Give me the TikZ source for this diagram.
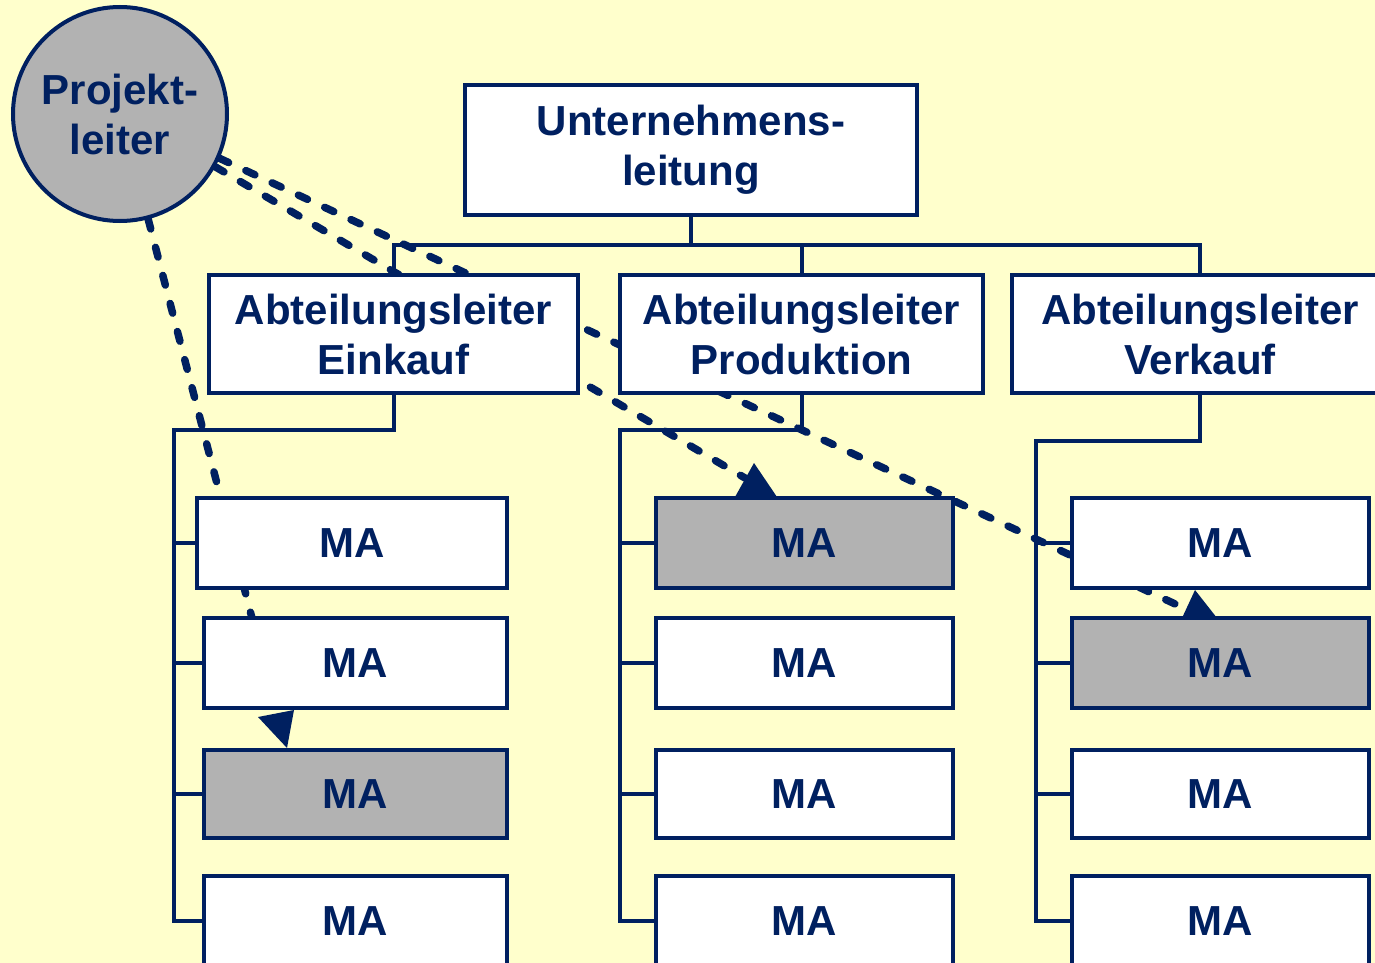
\documentclass[tikz,border=0pt]{standalone}
\usepackage{fontspec}
\setmainfont{Liberation Sans}
\usetikzlibrary{backgrounds}
\definecolor{navy}{RGB}{0,32,96}
\definecolor{bgyellow}{RGB}{255,255,204}
\definecolor{graybox}{RGB}{178,178,178}
\begin{document}
\begin{tikzpicture}[x=1pt,y=-1pt,
  box/.style={draw=navy, line width=4pt, fill=white, text=navy,
    font=\fontsize{42}{50}\selectfont\bfseries, align=center, inner sep=0pt},
  grbox/.style={box, fill=graybox},
  mabox/.style={box, minimum width=297pt, minimum height=90pt},
  conn/.style={draw=navy, line width=4pt},
  dline/.style={draw=navy, line width=7.5pt, line cap=round, dash pattern=on 10pt off 19pt},
  tipfill/.style={fill=navy, draw=none}]
\useasboundingbox (0,0) rectangle (1375,963);
\clip (0,0) rectangle (1375,963);

% ---- nodes ----
\node[box, circle, fill=graybox, minimum size=214pt] (pl) at (120,114) {Projekt-\\leiter};
\node[box, minimum width=452pt, minimum height=130pt] (ul) at (691,150) {Unternehmens-\\leitung};
\node[box, minimum width=369pt, minimum height=118pt] (ein) at (393.5,334) {Abteilungsleiter\\Einkauf};
\node[box, minimum width=363pt, minimum height=118pt] (pro) at (801.5,334) {Abteilungsleiter\\Produktion};
\node[box, minimum width=376pt, minimum height=118pt] (ver) at (1200,334) {Abteilungsleiter\\Verkauf};

% Einkauf
\node[mabox, minimum width=310pt] (e1) at (352,543) {MA};
\node[mabox, minimum width=303pt] (e2) at (355.5,663) {MA};
\node[mabox, grbox, minimum width=303pt, minimum height=88pt] (e3) at (355.5,794) {MA};
\node[mabox, minimum width=303pt] (e4) at (355.5,921) {MA};
% Produktion
\node[mabox, grbox] (p1) at (804.5,543) {MA};
\node[mabox] (p2) at (804.5,663) {MA};
\node[mabox, minimum height=88pt] (p3) at (804.5,794) {MA};
\node[mabox] (p4) at (804.5,921) {MA};
% Verkauf
\node[mabox] (v1) at (1220.5,543) {MA};
\node[mabox, grbox] (v2) at (1220.5,663) {MA};
\node[mabox, minimum height=88pt] (v3) at (1220.5,794) {MA};
\node[mabox] (v4) at (1220.5,921) {MA};

% ---- tree connectors ----
\coordinate (bus) at (0,245);
\draw[conn] (ul.south) -- (ul.south |- bus);
\draw[conn] (ein.north) -- (ein.north |- bus) -- (ver.north |- bus) -- (ver.north);
\draw[conn] (pro.north) -- (pro.north |- bus);

\coordinate (ej) at (174,430);
\coordinate (pj) at (620,430);
\coordinate (vj) at (1036,441);
\draw[conn] (ein.south) |- (ej) |- (e4.west);
\draw[conn] (pro.south) |- (pj) |- (p4.west);
\draw[conn] (ver.south) |- (vj) |- (v4.west);
\foreach \n in {e1,e2,e3} \draw[conn] (\n.west) -- (\n.west -| ej);
\foreach \n in {p1,p2,p3} \draw[conn] (\n.west) -- (\n.west -| pj);
\foreach \n in {v1,v2,v3} \draw[conn] (\n.west) -- (\n.west -| vj);

% ---- dashed project lines (behind) ----
\coordinate (a1) at (278,718);
\coordinate (a2) at (745,478);
\coordinate (a3) at (1188,610);
\begin{scope}[on background layer]
  \fill[bgyellow] (0,0) rectangle (1375,963);
  \draw[dline] (pl.-75) -- (a1);
  \draw[dline] (pl.-29) -- (a2);
  \draw[dline] (pl.-24) -- (a3);
\end{scope}

% ---- arrow heads ----
\fill[tipfill] (258,717) -- (294,710) -- (287,748) -- cycle;
\fill[tipfill] (735,497) -- (754,463) -- (777,497) -- cycle;
\fill[tipfill] (1182,618) -- (1195,590) -- (1217,618) -- cycle;
\end{tikzpicture}
\end{document}
